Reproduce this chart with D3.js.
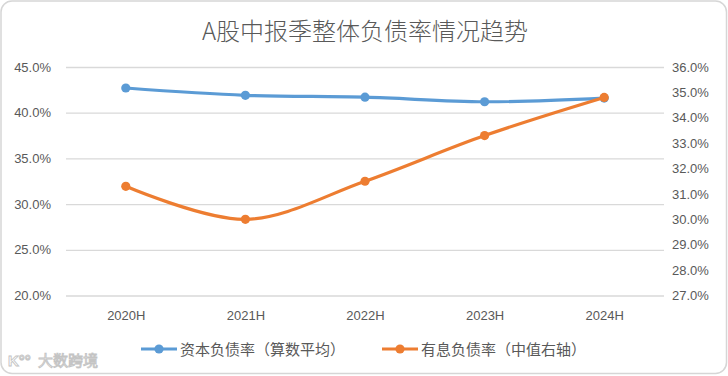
<!DOCTYPE html>
<html>
<head>
<meta charset="utf-8">
<script src="https://cdn.jsdelivr.net/npm/d3@7"></script>
<style>
  html, body { margin: 0; padding: 0; background: #fff; }
  svg { display: block; font-family: "Noto Sans CJK SC", "Noto Sans", sans-serif; }
</style>
</head>
<body>
<div id="app"></div>
<script>
// data
const periods = ["2020H", "2021H", "2022H", "2023H", "2024H"]
const assetLiabRatio = [42.7, 41.9, 41.7, 41.2, 41.6]      // left axis
const interestDebtRatio = [31.3, 30.0, 31.5, 33.3, 34.8]   // right axis
const leftTicks = [20, 25, 30, 35, 40, 45]
const rightTicks = [27, 28, 29, 30, 31, 32, 33, 34, 35, 36]
const seriesNames = ["资本负债率（算数平均）", "有息负债率（中值右轴）"]
const title = "A股中报季整体负债率情况趋势"

const width = 728
const height = 376
const plotLeft = 66, plotRight = 664, plotTop = 67, plotBottom = 295.5
const blue = "#5b9bd5", orange = "#ed7d31", grid = "#d9d9d9", textColor = "#595959"

const svg = d3.select("#app").append("svg")
  .attr("width", width)
  .attr("height", height)

// outer frame
svg.append("rect")
  .attr("x", 1).attr("y", 1)
  .attr("width", width - 2.5).attr("height", height - 3.5)
  .attr("rx", 11)
  .attr("fill", "#fff")
  .attr("stroke", "#d6d6d6")
  .attr("stroke-width", 1.5)

svg.append("text")
  .attr("x", 365).attr("y", 40)
  .attr("text-anchor", "middle")
  .attr("font-size", 24)
  .attr("font-weight", 300)
  .attr("fill", textColor)
  .text(title)

const x = d3.scalePoint().domain(periods).range([plotLeft, plotRight]).padding(0.5)
const yLeft = d3.scaleLinear().domain([20, 45]).range([plotBottom, plotTop])
const yRight = d3.scaleLinear().domain([27, 36]).range([plotBottom, plotTop])

// gridlines + left labels
const gLeft = svg.append("g")
  .attr("transform", `translate(${plotLeft},0)`)
  .call(d3.axisLeft(yLeft).tickValues(leftTicks)
    .tickSize(-(plotRight - plotLeft)).tickPadding(15)
    .tickFormat(d => d.toFixed(1) + "%"))
gLeft.select(".domain").remove()
gLeft.selectAll("line").attr("stroke", grid).attr("stroke-width", 1.3)
gLeft.selectAll("text").attr("fill", textColor).attr("font-size", 13)
  .attr("font-family", "Liberation Sans, sans-serif")

const gRight = svg.append("g")
  .attr("transform", `translate(${plotRight},0)`)
  .call(d3.axisRight(yRight).tickValues(rightTicks)
    .tickSize(0).tickPadding(8)
    .tickFormat(d => d.toFixed(1) + "%"))
gRight.select(".domain").remove()
gRight.selectAll("text").attr("fill", textColor).attr("font-size", 13)
  .attr("font-family", "Liberation Sans, sans-serif")

const gX = svg.append("g")
  .attr("transform", `translate(0,${plotBottom})`)
  .call(d3.axisBottom(x).tickSize(0).tickPadding(15))
gX.select(".domain").remove()
gX.selectAll("text").attr("fill", textColor).attr("font-size", 13)
  .attr("font-family", "Liberation Sans, sans-serif")

function drawSeries(values, scale, color) {
  const pts = values.map((v, i) => [x(periods[i]), scale(v)])
  svg.append("path")
    .attr("d", d3.line().curve(d3.curveCatmullRom.alpha(0.5))(pts))
    .attr("fill", "none")
    .attr("stroke", color)
    .attr("stroke-width", 3.2)
    .attr("stroke-linecap", "round")
  svg.append("g").selectAll("circle").data(pts).join("circle")
    .attr("cx", d => d[0]).attr("cy", d => d[1])
    .attr("r", 4.6).attr("fill", color)
}
drawSeries(assetLiabRatio, yLeft, blue)
drawSeries(interestDebtRatio, yRight, orange)

// legend
const legendItems = [
  { name: seriesNames[0], color: blue, x: 141 },
  { name: seriesNames[1], color: orange, x: 382 }
]
const lg = svg.append("g").selectAll("g").data(legendItems).join("g")
  .attr("transform", d => `translate(${d.x},349)`)
lg.append("line").attr("x1", 0).attr("x2", 36)
  .attr("stroke", d => d.color).attr("stroke-width", 3.2)
lg.append("circle").attr("cx", 18).attr("r", 4.6).attr("fill", d => d.color)
lg.append("text").attr("x", 39).attr("y", 5.5)
  .attr("font-size", 15).attr("fill", textColor)
  .text(d => d.name)

// watermark
const wm = svg.append("g").attr("transform", "translate(8,366)")
wm.append("text").attr("x", 0).attr("y", 0)
  .attr("font-size", 15).attr("fill", "#fff").attr("stroke", "#c4c4c4").attr("stroke-width", 0.9)
  .attr("font-family", "Liberation Sans, sans-serif").attr("font-weight", "bold")
  .text("K°°")
wm.append("text").attr("x", 30).attr("y", 0)
  .attr("font-size", 15).attr("fill", "#fff").attr("stroke", "#c4c4c4").attr("stroke-width", 0.9)
  .text("大数跨境")
</script>
</body>
</html>
